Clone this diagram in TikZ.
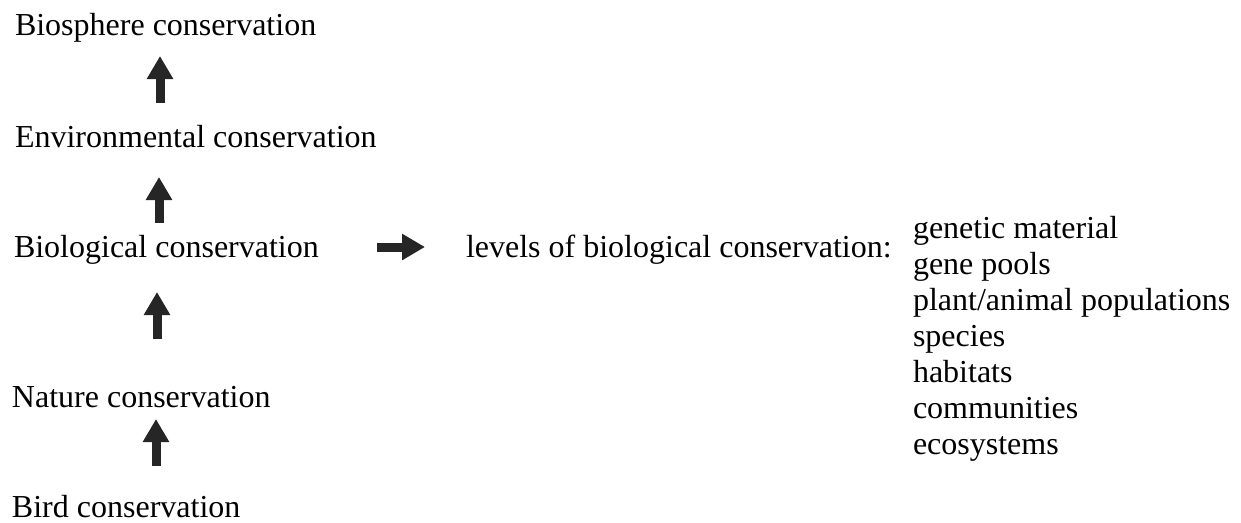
\documentclass[tikz,border=0pt]{standalone}
\usepackage{fontspec}
\setmainfont{Liberation Serif}
\usetikzlibrary{arrows.meta}

\tikzset{
  lbl/.style={anchor=base west, inner sep=0pt, outer sep=0pt,
              font=\fontsize{32}{38}\selectfont},
  blockarrow/.style={draw=black!90, line width=9pt, line cap=butt,
              -{Triangle[width=25pt,length=23pt]}, color=black!85}
}

\begin{document}
\begin{tikzpicture}[x=1pt, y=-1pt]
  \useasboundingbox (0,0) rectangle (1241,522);

  % conservation hierarchy, bottom to top
  \node[lbl] (bio)  at (15,35)  {Biosphere conservation};
  \node[lbl] (env)  at (15,147) {Environmental conservation};
  \node[lbl] (biol) at (14,257) {Biological conservation};
  \node[lbl] (nat)  at (12,407) {Nature conservation};
  \node[lbl] (bird) at (12,517) {Bird conservation};

  % levels of biological conservation
  \node[lbl] (lev) at (466,257) {levels of biological conservation:};
  \node[lbl] (l1) at (913,238) {genetic material};
  \node[lbl] (l2) at (913,274) {gene pools};
  \node[lbl] (l3) at (913,310) {plant/animal populations};
  \node[lbl] (l4) at (913,346) {species};
  \node[lbl] (l5) at (913,382) {habitats};
  \node[lbl] (l6) at (913,418) {communities};
  \node[lbl] (l7) at (913,454) {ecosystems};

  % arrow end points
  \coordinate (a1s) at (160,103); \coordinate (a1e) at (160,56);
  \coordinate (a2s) at (159,223); \coordinate (a2e) at (159,177);
  \coordinate (a3s) at (157,339); \coordinate (a3e) at (157,292);
  \coordinate (a4s) at (156,466); \coordinate (a4e) at (156,419);
  \coordinate (a5s) at (377,247); \coordinate (a5e) at (425,247);

  \draw[blockarrow] (a1s) -- (a1e);
  \draw[blockarrow] (a2s) -- (a2e);
  \draw[blockarrow] (a3s) -- (a3e);
  \draw[blockarrow] (a4s) -- (a4e);
  \draw[blockarrow] (a5s) -- (a5e);
\end{tikzpicture}
\end{document}
